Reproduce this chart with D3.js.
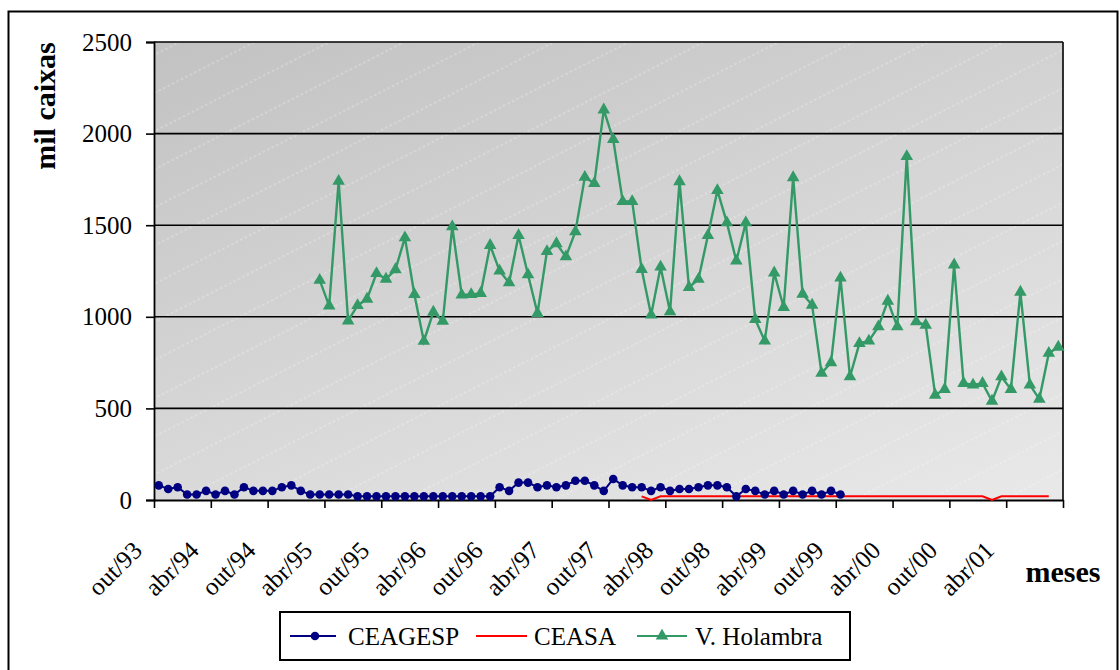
<!DOCTYPE html>
<html>
<head>
<meta charset="utf-8">
<script src="https://cdn.jsdelivr.net/npm/d3@7"></script>
<style>
  body { margin: 0; background: #fff; }
  text { font-family: "Liberation Serif", "Times New Roman", serif; }
</style>
</head>
<body>
<div id="container"></div>
<script>
// data we work with (monthly, first month = out/93)
let tickLabels = ["out/93","abr/94","out/94","abr/95","out/95","abr/96","out/96","abr/97",
                  "out/97","abr/98","out/98","abr/99","out/99","abr/00","out/00","abr/01",""];
let yTicks = [0, 500, 1000, 1500, 2000, 2500];

let ceagesp = [80,60,70,30,30,50,30,50,30,70,50,50,50,70,80,50,30,30,30,30,
               30,20,20,20,20,20,20,20,20,20,20,20,20,20,20,20,70,50,95,95,
               70,80,70,80,105,105,80,50,115,80,70,70,50,70,50,60,60,70,80,80,
               70,20,60,50,30,50,30,50,30,50,30,50,30];
let ceagespStart = 0;

let ceasa = [20,0,20,20,20,20,20,20,20,20,20,20,20,20,20,20,20,20,20,20,
             20,20,20,20,20,20,20,20,20,20,20,20,20,20,20,20,20,0,20,20,
             20,20,20,20];
let ceasaStart = 51;

let holambra = [1200,1060,1740,978,1062,1097,1237,1206,1258,1432,
                1122,867,1026,977,1492,1119,1122,1128,1390,1250,
                1186,1444,1230,1019,1357,1400,1328,1465,1762,1728,
                2130,1968,1630,1630,1259,1010,1272,1028,1738,1161,
                1205,1444,1690,1514,1305,1514,986,868,1240,1052,
                1760,1124,1064,692,750,1212,673,855,868,946,
                1086,946,1875,973,955,573,604,1284,637,628,
                637,540,673,604,1135,628,551,801,835];
let holambraStart = 17;

const w = 1120;
const h = 670;
const plotL = 154, plotR = 1063, plotT = 42, plotB = 500;
const nMonths = 96;

let viz = d3.select("#container")
  .append("svg")
    .attr("width", w)
    .attr("height", h)
;

let xScale = d3.scaleLinear().domain([0, nMonths]).range([plotL, plotR]);
let yScale = d3.scaleLinear().domain([0, 2500]).range([plotB, plotT]);

function toPoints(values, start){
  return values.map((v, i) => ({month: start + i, value: v}));
}
function getX(d){ return xScale(d.month + 0.5); }
function getY(d){ return yScale(d.value); }

// outer frame
viz.append("rect")
  .attr("x", 8.5).attr("y", 11.5)
  .attr("width", 1109).attr("height", 700)
  .attr("fill", "none").attr("stroke", "black").attr("stroke-width", 2)
;

// plot background: gradient + faint dotted diagonals
let defs = viz.append("defs");
let grad = defs.append("linearGradient")
  .attr("id", "bg")
  .attr("gradientUnits", "userSpaceOnUse")
  .attr("x1", plotL).attr("y1", plotT)
  .attr("x2", plotL + 219).attr("y2", plotT + 680);
grad.append("stop").attr("offset", 0).attr("stop-color", "#c2c2c2");
grad.append("stop").attr("offset", 1).attr("stop-color", "#e9e9e9");

let pat = defs.append("pattern")
  .attr("id", "hatch")
  .attr("patternUnits", "userSpaceOnUse")
  .attr("width", 5).attr("height", 34)
  .attr("patternTransform", "rotate(-27)");
pat.append("line")
  .attr("x1", 0).attr("y1", 17).attr("x2", 2.5).attr("y2", 17)
  .attr("stroke", "white").attr("stroke-opacity", 0.45).attr("stroke-width", 1);

viz.append("rect")
  .attr("x", plotL).attr("y", plotT)
  .attr("width", plotR - plotL).attr("height", plotB - plotT)
  .attr("fill", "url(#bg)");
viz.append("rect")
  .attr("x", plotL).attr("y", plotT)
  .attr("width", plotR - plotL).attr("height", plotB - plotT)
  .attr("fill", "url(#hatch)");

// gridlines
viz.selectAll(".grid").data(yTicks.slice(1)).enter()
  .append("line")
    .attr("x1", plotL).attr("x2", plotR)
    .attr("y1", d => yScale(d)).attr("y2", d => yScale(d))
    .attr("stroke", "black").attr("stroke-width", 1.6)
;
viz.append("line")
  .attr("x1", plotR).attr("x2", plotR).attr("y1", plotT).attr("y2", plotB)
  .attr("stroke", "black").attr("stroke-width", 1.6);

// axes
let yAxis = viz.append("g")
  .attr("transform", `translate(${plotL},0)`)
  .call(d3.axisLeft(yScale).tickValues(yTicks).tickSize(8).tickPadding(14).tickFormat(d3.format("d")));
yAxis.select(".domain").attr("stroke-width", 1.8);
yAxis.selectAll(".tick line").attr("stroke-width", 1.6);
yAxis.selectAll("text")
  .attr("font-size", 25).attr("fill", "black")
  .attr("font-family", "Liberation Serif");

let xAxis = viz.append("g")
  .attr("transform", `translate(0,${plotB})`)
  .call(d3.axisBottom(xScale)
    .tickValues(d3.range(0, nMonths + 1, 6))
    .tickSize(8).tickSizeOuter(0)
    .tickFormat((d, i) => tickLabels[i]));
xAxis.select(".domain").attr("stroke-width", 1.8);
xAxis.selectAll(".tick line").attr("stroke-width", 1.6);
xAxis.selectAll("text")
  .attr("x", 0).attr("y", 0).attr("dy", 0)
  .attr("transform", "translate(-11,52) rotate(-45)")
  .attr("text-anchor", "end")
  .attr("font-size", 25).attr("fill", "black")
  .attr("font-family", "Liberation Serif");

// axis titles
viz.append("text")
  .attr("transform", "translate(55,106) rotate(-90)")
  .attr("text-anchor", "middle")
  .attr("font-size", 30).attr("font-weight", "bold")
  .text("mil caixas");
viz.append("text")
  .attr("x", 1063).attr("y", 582)
  .attr("text-anchor", "middle")
  .attr("font-size", 30).attr("font-weight", "bold")
  .text("meses");

// series
let lineMaker = d3.line().x(getX).y(getY);

let ceasaPts = toPoints(ceasa, ceasaStart);
viz.append("path").datum(ceasaPts)
  .attr("d", lineMaker)
  .attr("fill", "none").attr("stroke", "#ff0000").attr("stroke-width", 2);

let ceagespPts = toPoints(ceagesp, ceagespStart);
viz.append("path").datum(ceagespPts)
  .attr("d", lineMaker)
  .attr("fill", "none").attr("stroke", "#000080").attr("stroke-width", 2);
viz.selectAll(".dot").data(ceagespPts).enter()
  .append("circle")
    .attr("cx", getX).attr("cy", getY).attr("r", 4.3)
    .attr("fill", "#000080");

let holPts = toPoints(holambra, holambraStart);
viz.append("path").datum(holPts)
  .attr("d", lineMaker)
  .attr("fill", "none").attr("stroke", "#339966").attr("stroke-width", 2.4);
let tri = d3.symbol().type(d3.symbolTriangle).size(68);
viz.selectAll(".tri").data(holPts).enter()
  .append("path")
    .attr("d", tri)
    .attr("transform", d => `translate(${getX(d)},${getY(d)})`)
    .attr("fill", "#339966");

// legend
let lg = viz.append("g");
lg.append("rect")
  .attr("x", 280).attr("y", 612).attr("width", 570).attr("height", 48)
  .attr("fill", "white").attr("stroke", "black").attr("stroke-width", 2);
let legendItems = [
  {name: "CEAGESP", color: "#000080", x1: 290, x2: 336, tx: 348, mark: "circle"},
  {name: "CEASA", color: "#ff0000", x1: 476, x2: 527, tx: 534, mark: "none"},
  {name: "V. Holambra", color: "#339966", x1: 637, x2: 687, tx: 695, mark: "tri"}
];
legendItems.forEach(function(d){
  lg.append("line")
    .attr("x1", d.x1).attr("x2", d.x2).attr("y1", 636).attr("y2", 636)
    .attr("stroke", d.color).attr("stroke-width", 2);
  if (d.mark == "circle") {
    lg.append("circle").attr("cx", (d.x1 + d.x2) / 2 + 2).attr("cy", 636).attr("r", 4.3).attr("fill", d.color);
  } else if (d.mark == "tri") {
    lg.append("path").attr("d", tri).attr("transform", `translate(${(d.x1 + d.x2) / 2},636)`).attr("fill", d.color);
  }
  lg.append("text")
    .attr("x", d.tx).attr("y", 645)
    .attr("font-size", 25)
    .text(d.name);
});
</script>
</body>
</html>
